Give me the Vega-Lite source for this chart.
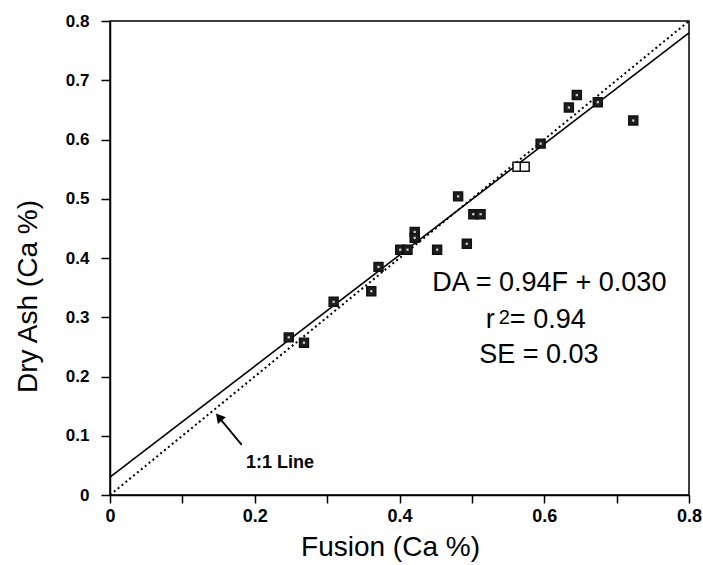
{
  "$schema": "https://vega.github.io/schema/vega-lite/v6.json",
  "width": 579,
  "height": 474,
  "autosize": "none",
  "padding": {"left": 110, "top": 21, "right": 14, "bottom": 70},
  "background": "white",
  "config": {
    "view": {"stroke": "black", "strokeWidth": 1.5},
    "axis": {
      "grid": false,
      "domainColor": "black",
      "domainWidth": 1.5,
      "tickColor": "black",
      "tickWidth": 1.5,
      "labelColor": "black",
      "labelFont": "Liberation Sans",
      "labelFontWeight": "bold",
      "labelFontSize": 17,
      "labelFlush": false,
      "labelOverlap": false,
      "titleColor": "black",
      "titleFont": "Liberation Sans",
      "titleFontWeight": "normal",
      "titleFontSize": 28
    }
  },
  "datasets": {
    "points": [
      {"fusion": 0.247, "dryash": 0.266, "group": "filled"},
      {"fusion": 0.268, "dryash": 0.257, "group": "filled"},
      {"fusion": 0.309, "dryash": 0.326, "group": "filled"},
      {"fusion": 0.361, "dryash": 0.344, "group": "filled"},
      {"fusion": 0.371, "dryash": 0.385, "group": "filled"},
      {"fusion": 0.401, "dryash": 0.414, "group": "filled"},
      {"fusion": 0.411, "dryash": 0.414, "group": "filled"},
      {"fusion": 0.421, "dryash": 0.444, "group": "filled"},
      {"fusion": 0.421, "dryash": 0.434, "group": "filled"},
      {"fusion": 0.452, "dryash": 0.414, "group": "filled"},
      {"fusion": 0.481, "dryash": 0.504, "group": "filled"},
      {"fusion": 0.493, "dryash": 0.424, "group": "filled"},
      {"fusion": 0.502, "dryash": 0.474, "group": "filled"},
      {"fusion": 0.512, "dryash": 0.474, "group": "filled"},
      {"fusion": 0.563, "dryash": 0.554, "group": "open"},
      {"fusion": 0.573, "dryash": 0.554, "group": "open"},
      {"fusion": 0.595, "dryash": 0.593, "group": "filled"},
      {"fusion": 0.634, "dryash": 0.654, "group": "filled"},
      {"fusion": 0.645, "dryash": 0.675, "group": "filled"},
      {"fusion": 0.674, "dryash": 0.663, "group": "filled"},
      {"fusion": 0.723, "dryash": 0.632, "group": "filled"}
    ]
  },
  "layer": [
    {
      "data": {"values": [{"fusion": 0, "dryash": 0.03}, {"fusion": 0.8, "dryash": 0.78}]},
      "mark": {"type": "line", "color": "black", "strokeWidth": 1.6},
      "encoding": {
        "x": {
          "field": "fusion", "type": "quantitative",
          "scale": {"domain": [0, 0.8], "nice": false},
          "axis": {
            "title": "Fusion (Ca %)",
            "values": [0, 0.1, 0.2, 0.3, 0.4, 0.5, 0.6, 0.7, 0.8],
            "format": ".1~f",
            "labelExpr": "(round(datum.value*10) % 2 == 0) ? datum.label : ''",
            "tickSize": 8,
            "labelPadding": 4,
            "labelFontSize": 18,
            "titleX": 280,
            "titleY": 60,
            "titleBaseline": "alphabetic",
            "titleAlign": "center"
          }
        },
        "y": {
          "field": "dryash", "type": "quantitative",
          "scale": {"domain": [0, 0.8], "nice": false},
          "axis": {
            "title": "Dry Ash (Ca %)",
            "values": [0, 0.1, 0.2, 0.3, 0.4, 0.5, 0.6, 0.7, 0.8],
            "format": ".1~f",
            "tickSize": 9,
            "labelPadding": 12,
            "titleAngle": 270,
            "titleX": -74,
            "titleY": 275,
            "titleBaseline": "alphabetic",
            "titleAlign": "center"
          }
        }
      }
    },
    {
      "data": {"values": [{"fusion": 0, "dryash": 0}, {"fusion": 0.8, "dryash": 0.8}]},
      "mark": {"type": "line", "color": "black", "strokeWidth": 2, "strokeDash": [2, 3]},
      "encoding": {
        "x": {"field": "fusion", "type": "quantitative"},
        "y": {"field": "dryash", "type": "quantitative"}
      }
    },
    {
      "data": {"name": "points"},
      "mark": {"type": "point", "shape": "square", "size": 80, "strokeWidth": 1.5, "stroke": "#111", "opacity": 1},
      "encoding": {
        "x": {"field": "fusion", "type": "quantitative"},
        "y": {"field": "dryash", "type": "quantitative"},
        "fill": {
          "field": "group", "type": "nominal",
          "scale": {"domain": ["filled", "open"], "range": ["#1e1e1e", "white"]},
          "legend": null
        }
      }
    },
    {
      "data": {"name": "points"},
      "transform": [{"filter": "datum.group == 'filled'"}],
      "mark": {"type": "point", "shape": "square", "size": 5, "filled": true, "color": "#cfcfcf", "opacity": 1},
      "encoding": {
        "x": {"field": "fusion", "type": "quantitative"},
        "y": {"field": "dryash", "type": "quantitative"}
      }
    },
    {
      "data": {"values": [{"fusion": 0.182, "dryash": 0.0845, "fusion2": 0.152, "dryash2": 0.129}]},
      "mark": {"type": "rule", "color": "black", "strokeWidth": 1.8},
      "encoding": {
        "x": {"field": "fusion", "type": "quantitative"},
        "y": {"field": "dryash", "type": "quantitative"},
        "x2": {"field": "fusion2"},
        "y2": {"field": "dryash2"}
      }
    },
    {
      "data": {"values": [{"fusion": 0.1505, "dryash": 0.1315}]},
      "mark": {"type": "point", "shape": "triangle-up", "size": 110, "filled": true, "color": "black", "opacity": 1, "angle": 320},
      "encoding": {
        "x": {"field": "fusion", "type": "quantitative"},
        "y": {"field": "dryash", "type": "quantitative"}
      }
    },
    {
      "data": {"values": [{"fusion": 0.235, "dryash": 0.0456, "note": "1:1 Line"}]},
      "mark": {"type": "text", "font": "Liberation Sans", "fontWeight": "bold", "fontSize": 18, "align": "center", "baseline": "alphabetic", "color": "black"},
      "encoding": {
        "x": {"field": "fusion", "type": "quantitative"},
        "y": {"field": "dryash", "type": "quantitative"},
        "text": {"field": "note"}
      }
    },
    {
      "data": {"values": [
        {"fusion": 0.607, "dryash": 0.345, "note": "DA = 0.94F + 0.030"},
        {"fusion": 0.5925, "dryash": 0.223, "note": "SE = 0.03"}
      ]},
      "mark": {"type": "text", "font": "Liberation Sans", "fontSize": 27, "align": "center", "baseline": "alphabetic", "color": "black"},
      "encoding": {
        "x": {"field": "fusion", "type": "quantitative"},
        "y": {"field": "dryash", "type": "quantitative"},
        "text": {"field": "note"}
      }
    },
    {
      "data": {"values": [
        {"fusion": 0.519, "dryash": 0.282, "note": "r"},
        {"fusion": 0.5525, "dryash": 0.282, "note": "= 0.94"}
      ]},
      "mark": {"type": "text", "font": "Liberation Sans", "fontSize": 27, "align": "left", "baseline": "alphabetic", "color": "black"},
      "encoding": {
        "x": {"field": "fusion", "type": "quantitative"},
        "y": {"field": "dryash", "type": "quantitative"},
        "text": {"field": "note"}
      }
    },
    {
      "data": {"values": [{"fusion": 0.537, "dryash": 0.289, "note": "2"}]},
      "mark": {"type": "text", "font": "Liberation Sans", "fontSize": 20, "align": "left", "baseline": "alphabetic", "color": "black"},
      "encoding": {
        "x": {"field": "fusion", "type": "quantitative"},
        "y": {"field": "dryash", "type": "quantitative"},
        "text": {"field": "note"}
      }
    }
  ]
}
